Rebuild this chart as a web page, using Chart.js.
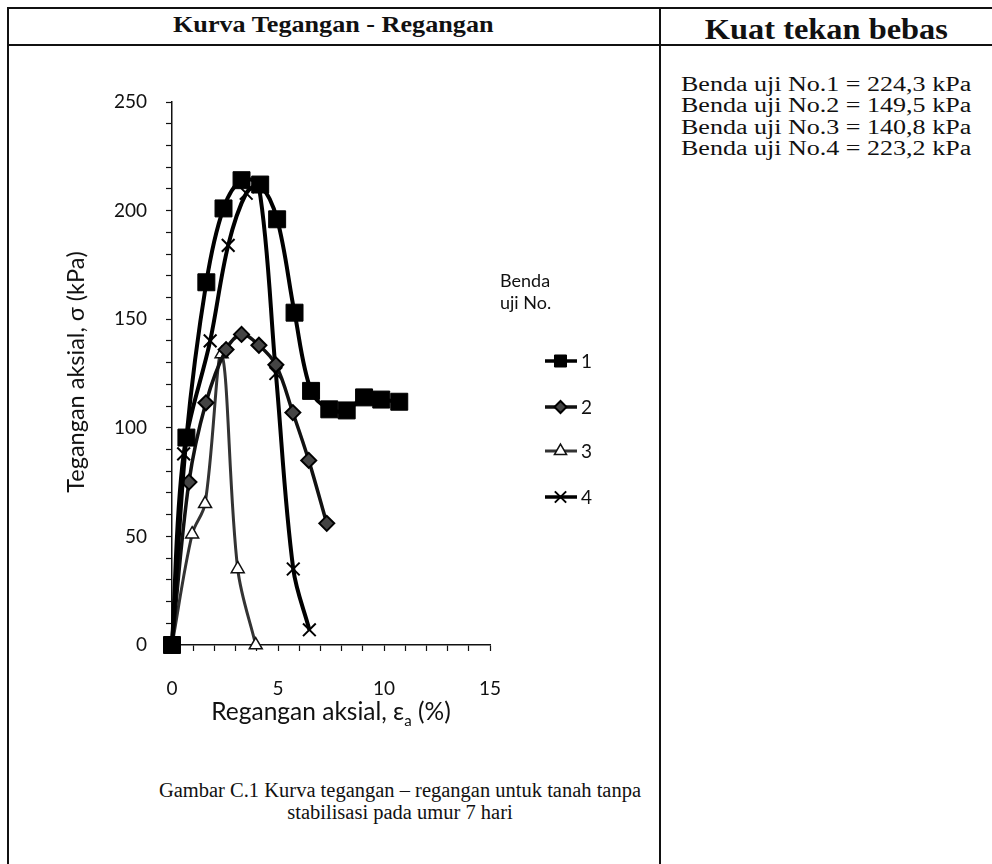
<!DOCTYPE html>
<html>
<head>
<meta charset="utf-8">
<script src="https://cdn.jsdelivr.net/npm/chart.js@4/dist/chart.umd.min.js"></script>
<style>
  html,body{margin:0;padding:0;background:#fff;}
  body{width:992px;height:864px;position:relative;overflow:hidden;}
  .ln{position:absolute;background:#111;}
  .serif{font-family:"Liberation Serif","Times New Roman",serif;color:#111;position:absolute;}
  .sans{font-family:"Lato","Open Sans",sans-serif;color:#111;position:absolute;}
  #wrap{position:absolute;left:10px;top:46px;width:648px;height:720px;}
</style>
</head>
<body>
<div class="ln" style="left:8px;top:7px;width:984px;height:2px;"></div>
<div class="ln" style="left:8px;top:44px;width:984px;height:2px;"></div>
<div class="ln" style="left:7px;top:7px;width:2px;height:857px;"></div>
<div class="ln" style="left:659px;top:7px;width:2px;height:857px;"></div>

<div class="serif" id="h1" style="left:8px;width:652px;top:9px;text-align:center;font-weight:bold;font-size:24px;line-height:30px;transform:scaleX(1.09);transform-origin:334px 0;">Kurva Tegangan - Regangan</div>
<div class="serif" id="h2" style="left:661px;width:331px;top:11px;text-align:center;font-weight:bold;font-size:30px;line-height:36px;transform:scaleX(1.08);transform-origin:167px 0;">Kuat tekan bebas</div>

<div class="serif" id="res" style="left:681px;top:74px;font-size:20.5px;line-height:21.3px;transform:scaleX(1.27);transform-origin:0 0;white-space:nowrap;">
Benda uji No.1 = 224,3 kPa<br>
Benda uji No.2 = 149,5 kPa<br>
Benda uji No.3 = 140,8 kPa<br>
Benda uji No.4 = 223,2 kPa
</div>

<div id="wrap"><canvas id="c" width="648" height="720"></canvas></div>

<div class="sans" id="xt" style="left:132px;width:398px;top:696px;text-align:center;font-size:24.5px;">Regangan aksial, ε<sub style="font-size:15px;">a</sub> (%)</div>
<div class="sans" id="yt" style="left:-75px;width:300px;top:358px;text-align:center;font-size:23.5px;transform:rotate(-90deg);">Tegangan aksial, σ (kPa)</div>

<div class="serif" id="cap" style="left:50px;width:700px;top:780px;text-align:center;font-size:20.5px;line-height:21.5px;">
Gambar C.1 Kurva tegangan – regangan untuk tanah tanpa<br>stabilisasi pada umur 7 hari
</div>

<script>
// ---- data ----
const strain1 = [0, 0.68, 1.62, 2.43, 3.28, 4.16, 4.96, 5.78, 6.56, 7.42, 8.24, 9.06, 9.87, 10.72];
const stress1 = [0, 95.5, 167, 201, 214, 212, 196, 153, 117, 108.5, 108, 114, 113, 112];

const strain2 = [0, 0.8, 1.6, 2.55, 3.28, 4.1, 4.9, 5.7, 6.45, 7.3];
const stress2 = [0, 75, 111.5, 136, 143, 138, 129, 107, 85, 56];

const strain3 = [0, 0.95, 1.56, 2.34, 3.1, 3.95];
const stress3 = [0, 51, 65, 134, 35, 0];

const strain4 = [0, 0.55, 1.8, 2.65, 3.5, 4.1, 4.9, 5.72, 6.48];
const stress4 = [0, 88, 140, 184, 208, 211, 125, 35, 7];

const seriesNames = ["1", "2", "3", "4"];
const xLabelTicks = [0, 5, 10, 15];
const yLabelTicks = [0, 50, 100, 150, 200, 250];

function pts(xs, ys){ return xs.map((x,i)=>({x:x, y:ys[i]})); }

const styles = [
  {borderColor:'#000', borderWidth:4, pointStyle:'rect', pointRadius:12, pointBackgroundColor:'#000', pointBorderColor:'#000', pointBorderWidth:1, lr:8.5},
  {borderColor:'#111', borderWidth:3.5, pointStyle:'rectRot', pointRadius:7.5, pointBackgroundColor:'#444', pointBorderColor:'#000', pointBorderWidth:2, lr:6},
  {borderColor:'#333', borderWidth:3, pointStyle:'triangle', pointRadius:7.5, pointBackgroundColor:'#fff', pointBorderColor:'#111', pointBorderWidth:1.5, lr:7},
  {borderColor:'#000', borderWidth:4, pointStyle:'crossRot', pointRadius:9, pointBackgroundColor:'#000', pointBorderColor:'#000', pointBorderWidth:2, lr:8}
];
const allX = [strain1, strain2, strain3, strain4];
const allY = [stress1, stress2, stress3, stress4];

const datasets = allX.map((xs,i)=>Object.assign({
  label: seriesNames[i],
  data: pts(xs, allY[i]),
  showLine: true,
  tension: 0.35,
  clip: false,
  pointHoverRadius: styles[i].pointRadius
}, styles[i]));

const legendPlugin = {
  id:'legendCustom',
  afterDraw(chart){
    const ctx = chart.ctx;
    ctx.save();
    ctx.fillStyle = '#111';
    ctx.font = '18px Lato, "Open Sans", sans-serif';
    ctx.textBaseline = 'middle';
    ctx.textAlign = 'left';
    ctx.fillText('Benda', 490, 235);
    ctx.fillText('uji No.', 490, 257);
    ctx.font = '19px Lato, "Open Sans", sans-serif';
    const ys = [315, 361, 405, 451];
    for (let i=0;i<4;i++){
      const s = styles[i];
      const y = ys[i];
      ctx.beginPath();
      ctx.strokeStyle = s.borderColor;
      ctx.lineWidth = Math.min(s.borderWidth, 3.5);
      ctx.moveTo(535, y); ctx.lineTo(567, y); ctx.stroke();
      const opts = {pointStyle:s.pointStyle, radius:s.lr, rotation:0, borderWidth:s.pointBorderWidth};
      ctx.fillStyle = s.pointBackgroundColor;
      ctx.strokeStyle = s.pointBorderColor;
      ctx.lineWidth = s.pointBorderWidth;
      Chart.helpers.drawPoint(ctx, opts, 550.5, y);
      ctx.fillStyle = '#111';
      ctx.fillText(seriesNames[i], 571, y+1);
    }
    ctx.restore();
  }
};

new Chart(document.getElementById('c'), {
  type:'scatter',
  data:{datasets:datasets},
  plugins:[legendPlugin],
  options:{
    responsive:false,
    animation:false,
    layout:{padding:{left:0, right:168, top:56, bottom:0}},
    plugins:{legend:{display:false}, tooltip:{enabled:false}},
    scales:{
      x:{
        type:'linear', min:0, max:15,
        afterFit(s){ s.height = 121; },
        border:{color:'#111', width:1.5},
        grid:{drawOnChartArea:false, drawTicks:true, tickLength:6, color:'#111', tickColor:'#111', tickWidth:1.2},
        ticks:{stepSize:1, autoSkip:false, maxRotation:0, padding:26, color:'#111',
          font:{family:'Lato, "Open Sans", sans-serif', size:19},
          callback:(v)=> xLabelTicks.includes(v) ? String(v) : ''}
      },
      y:{
        type:'linear', min:0, max:250,
        afterFit(s){ s.width = 162; },
        border:{color:'#111', width:1.5},
        grid:{drawOnChartArea:false, drawTicks:true, tickLength:6, color:'#111', tickColor:'#111', tickWidth:1.2},
        ticks:{stepSize:10, autoSkip:false, padding:19, color:'#111',
          font:{family:'Lato, "Open Sans", sans-serif', size:19},
          callback:(v)=> yLabelTicks.includes(v) ? String(v) : ''}
      }
    }
  }
});
</script>
</body>
</html>
